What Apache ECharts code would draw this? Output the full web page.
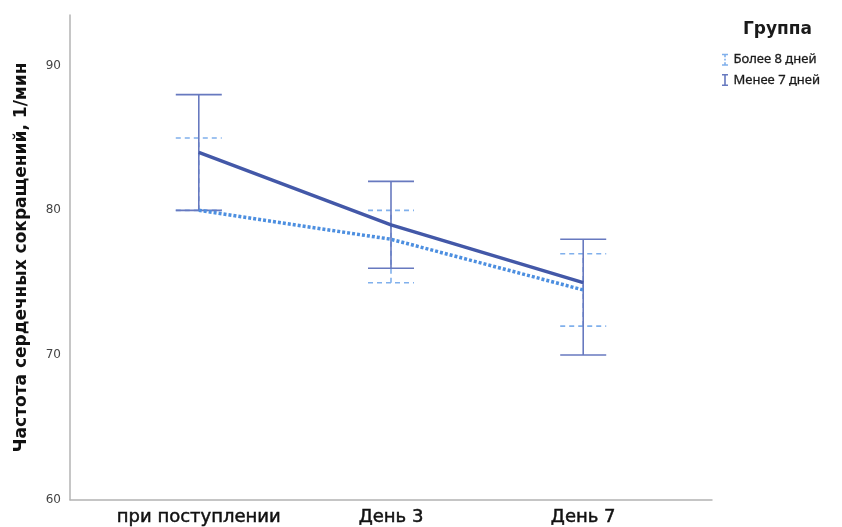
<!DOCTYPE html>
<html>
<head>
<meta charset="utf-8">
<script src="https://cdn.jsdelivr.net/npm/echarts@6/dist/echarts.min.js"></script>
<style>
  html, body { margin: 0; padding: 0; background: #fff; }
  #chart { width: 842px; height: 527px; }
</style>
</head>
<body>
<div id="chart"></div>
<script>
// Time points of the measurement
const categories = ['при поступлении', 'День 3', 'День 7'];
const yTicks = [60, 70, 80, 90];

// Group "Более 8 дней": mean heart rate and error-bar bounds
const moreMean = [80, 78, 74.5];
const moreLow = [80, 75, 72];
const moreHigh = [85, 80, 77];

// Group "Менее 7 дней": mean heart rate and error-bar bounds
const lessMean = [84, 79, 75];
const lessLow = [80, 76, 70];
const lessHigh = [88, 82, 78];

const groupMore = 'Более 8 дней';
const groupLess = 'Менее 7 дней';

const colLessLine = '#4358a8';
const colLessBar = '#6779bf';
const colMoreLine = '#4d8fe0';
const colMoreBar = '#80b0ec';

function pts(means) { return means.map((v, i) => [i, v]); }
function bars(lo, hi) { return lo.map((v, i) => [i, v, hi[i]]); }

function errorBar(color, dash) {
  return function (params, api) {
    const x = api.value(0);
    const lo = api.coord([x, api.value(1)]);
    const hi = api.coord([x, api.value(2)]);
    const half = 23;
    const style = { stroke: color, lineWidth: 1.6, lineDash: dash, fill: null };
    return {
      type: 'group',
      children: [
        { type: 'line', shape: { x1: lo[0], y1: lo[1], x2: hi[0], y2: hi[1] }, style: style },
        { type: 'line', shape: { x1: lo[0] - half, y1: lo[1], x2: lo[0] + half, y2: lo[1] }, style: style },
        { type: 'line', shape: { x1: hi[0] - half, y1: hi[1], x2: hi[0] + half, y2: hi[1] }, style: style }
      ]
    };
  };
}

const iconSolid = 'path://M0,0 L6,0 L6,1.5 L3.8,1.5 L3.8,10.5 L6,10.5 L6,12 L0,12 L0,10.5 L2.2,10.5 L2.2,1.5 L0,1.5 Z';
const iconDashed = 'path://M0,0 L6,0 L6,1.5 L3.8,1.5 L3.8,3.5 L2.2,3.5 L2.2,1.5 L0,1.5 Z M2.2,5.2 L3.8,5.2 L3.8,6.8 L2.2,6.8 Z M2.2,8.5 L3.8,8.5 L3.8,10.5 L6,10.5 L6,12 L0,12 L0,10.5 L2.2,10.5 Z';

const chart = echarts.init(document.getElementById('chart'), null, { renderer: 'canvas' });
chart.setOption({
  animation: false,
  backgroundColor: '#ffffff',
  textStyle: { fontFamily: 'DejaVu Sans' },
  grid: { left: 70, right: 130, top: 15, bottom: 26 },
  graphic: [{
    type: 'text', left: 743, top: 21,
    style: { text: 'Группа', font: 'bold 17px "DejaVu Sans"', fill: '#1a1a1a' }
  }],
  legend: {
    orient: 'vertical', left: 717, top: 48,
    itemWidth: 7, itemHeight: 12, itemGap: 7,
    textStyle: { fontSize: 13, color: '#1a1a1a', fontFamily: 'Noto Sans', textBorderColor: '#1a1a1a', textBorderWidth: 0.3 },
    data: [
      { name: groupMore, icon: iconDashed, itemStyle: { color: colMoreBar } },
      { name: groupLess, icon: iconSolid, itemStyle: { color: colLessBar } }
    ]
  },
  xAxis: {
    type: 'value', min: -0.67, max: 2.67,
    axisLine: { show: true, onZero: false, lineStyle: { color: '#b3b3b3', width: 1.5 } },
    axisTick: { show: false },
    splitLine: { show: false },
    axisLabel: {
      customValues: [0, 1, 2],
      formatter: v => categories[Math.round(v)] || '',
      fontSize: 18, color: '#111', margin: 9, fontFamily: 'DejaVu Sans',
      textBorderColor: '#111', textBorderWidth: 0.5
    }
  },
  yAxis: {
    type: 'value', min: 60, max: 93.5, interval: 10,
    name: 'Частота сердечных сокращений, 1/мин',
    nameLocation: 'middle', nameGap: 40,
    nameTextStyle: { fontSize: 17, fontWeight: 'bold', color: '#111', fontFamily: 'DejaVu Sans' },
    axisLine: { show: true, onZero: false, lineStyle: { color: '#b3b3b3', width: 1.5 } },
    axisTick: { show: false },
    splitLine: { show: false },
    axisLabel: {
      customValues: yTicks,
      fontSize: 12, color: '#444', margin: 9, fontFamily: 'DejaVu Sans'
    }
  },
  series: [
    {
      name: groupMore, type: 'custom', renderItem: errorBar(colMoreBar, [5, 4]),
      data: bars(moreLow, moreHigh), z: 2, encode: { x: 0, y: [1, 2] }
    },
    {
      name: groupLess, type: 'custom', renderItem: errorBar(colLessBar, null),
      data: bars(lessLow, lessHigh), z: 3, encode: { x: 0, y: [1, 2] }
    },
    {
      name: groupMore + ' ', type: 'line', data: pts(moreMean), symbol: 'none', z: 4,
      lineStyle: { color: colMoreLine, width: 3.5, type: [3, 2] }
    },
    {
      name: groupLess + ' ', type: 'line', data: pts(lessMean), symbol: 'none', z: 5,
      lineStyle: { color: colLessLine, width: 3.5 }
    }
  ]
});
</script>
</body>
</html>
